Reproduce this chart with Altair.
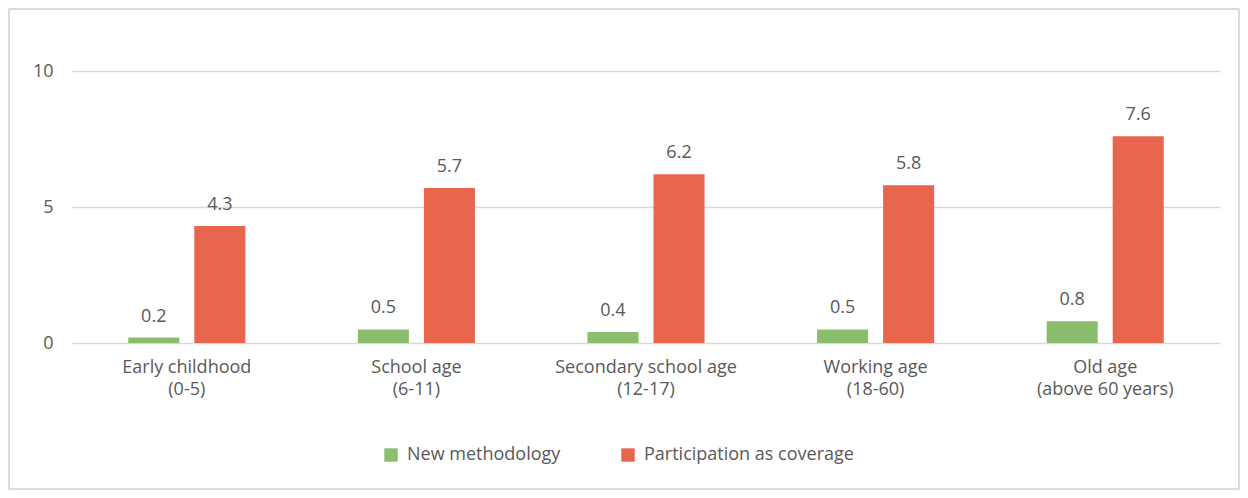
import altair as alt
import pandas as pd

categories = ["Early childhood|(0-5)", "School age|(6-11)", "Secondary school age|(12-17)",
              "Working age|(18-60)", "Old age|(above 60 years)"]
series = ["New methodology", "Participation as coverage"]
new_method = [0.2, 0.5, 0.4, 0.5, 0.8]
participation = [4.3, 5.7, 6.2, 5.8, 7.6]
colors = ["#8BBE6C", "#E8664D"]

rows = []
for c, a, b in zip(categories, new_method, participation):
    rows.append({"cat": c, "series": series[0], "value": a})
    rows.append({"cat": c, "series": series[1], "value": b})
df = pd.DataFrame(rows)

FONT = "Open Sans"
TXT = "#595959"
FS = 18

x = alt.X("cat:N", sort=categories, title=None,
          scale=alt.Scale(paddingInner=0.49, paddingOuter=0.245),
          axis=alt.Axis(labelExpr="split(datum.label, '|')", labelAngle=0, labelFont=FONT,
                        labelFontSize=FS, labelColor=TXT, labelLineHeight=22, labelPadding=15,
                        labelBaseline="top", domain=False, ticks=False, labelLimit=0))
xo = alt.XOffset("series:N", sort=series, scale=alt.Scale(paddingInner=0.227))
y = alt.Y("value:Q", title=None, scale=alt.Scale(domain=[0, 10]),
          axis=alt.Axis(values=[0, 5, 10], labelFont=FONT, labelFontSize=FS, labelColor=TXT,
                        labelPadding=19, domain=False, ticks=False, gridColor="#D9D9D9",
                        gridWidth=1.3))
color = alt.Color("series:N", sort=series, scale=alt.Scale(domain=series, range=colors),
                  legend=alt.Legend(title=None, orient="none", direction="horizontal",
                                    legendX=310, legendY=375, symbolType="square", symbolSize=180,
                                    symbolStrokeWidth=0, labelFont=FONT, labelFontSize=FS,
                                    labelColor=TXT, columnPadding=58, labelOffset=7,
                                    labelLimit=0))

base = alt.Chart(df)
bars = base.mark_bar().encode(x=x, xOffset=xo, y=y, color=color)
labels = base.mark_text(dy=-12, baseline="bottom", font=FONT, fontSize=FS, color=TXT).encode(
    x=x, xOffset=xo, y=y, text=alt.Text("value:Q", format=".1f"))

border = alt.Chart(pd.DataFrame({"k": [0]})).mark_rect(
    fill=None, stroke="#D0D0D0", strokeWidth=1.5).encode(
    x=alt.value(-63), x2=alt.value(1167), y=alt.value(-62), y2=alt.value(418))

chart = alt.layer(border, bars, labels).properties(
    width=1148, height=272,
    autosize=alt.AutoSizeParams(type="none"),
    padding={"left": 64, "top": 63, "right": 20, "bottom": 147},
).configure_view(stroke=None)

chart.save("out.html", embed_options={"renderer": "svg", "actions": False})
